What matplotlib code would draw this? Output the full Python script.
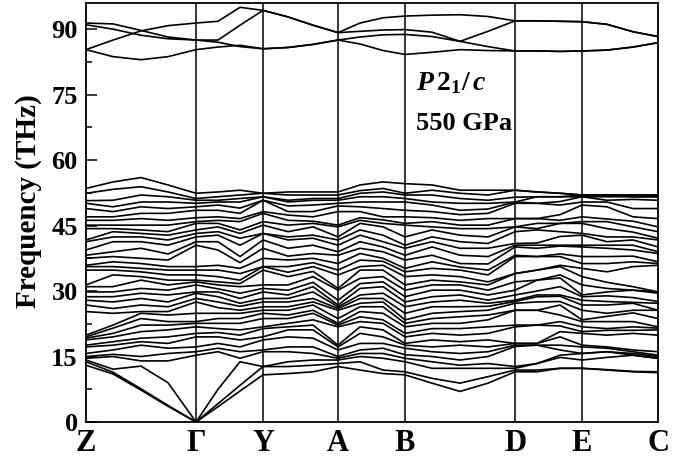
import numpy as np
import matplotlib
matplotlib.use("Agg")
from matplotlib import pyplot as plt
from matplotlib.ticker import MultipleLocator

# distance along the k-path for every sampled wavevector
kpath = [0, 27, 55, 82, 110, 132, 154, 177, 202, 227, 252, 274,
         297, 319, 346, 374, 402, 429, 451, 474, 496, 521, 547, 572]
sym_labels = ["Z", "Γ", "Y", "A", "B", "D", "E", "C"]
sym_pos = [0, 110, 177, 252, 319, 429, 496, 572]

# the four high optical branches (THz)
high_1 = [85.3, 87.5, 89.6, 90.8, 91.4, 91.8, 95.0, 94.3, 92.8, 90.9, 89.2, 91.4,
          92.6, 93.0, 93.2, 93.3, 92.9, 91.9, 91.9, 91.8, 91.7, 91.1, 89.4, 88.3]
high_2 = [91.4, 91.2, 89.7, 88.2, 87.5, 87.5, 90.9, 94.3, 92.8, 90.9, 89.2, 89.5,
          89.8, 89.9, 89.3, 87.2, 86.0, 85.0, 85.0, 84.9, 85.0, 85.2, 85.9, 86.9]
high_3 = [91.0, 90.0, 88.6, 87.8, 87.5, 87.0, 86.0, 85.5, 85.8, 86.5, 87.5, 88.2,
          88.7, 88.8, 88.3, 87.2, 89.5, 91.9, 91.9, 91.8, 91.7, 91.1, 89.4, 88.3]
high_4 = [85.3, 83.7, 83.0, 83.7, 85.3, 85.9, 86.3, 85.5, 85.8, 86.5, 87.5, 86.6,
          85.1, 84.2, 84.7, 85.3, 85.1, 85.0, 85.0, 84.9, 85.0, 85.2, 85.9, 86.9]

# lower branches: sorted frequencies (THz) at each sampled wavevector
f_Z = [13.0, 13.8, 14.2, 14.6, 15.0, 15.7, 17.2, 17.6, 18.8, 19.2, 19.5, 19.9,
       25.3, 26.8, 27.9, 28.7, 29.8, 31.0, 31.4, 34.8, 35.6, 35.9, 37.5, 38.2,
       39.4, 41.3, 41.7, 44.3, 45.1, 46.2, 47.0, 48.9, 50.1, 50.7, 52.4, 53.5]
f_ZG1 = [11.0, 11.4, 12.1, 15.0, 15.5, 16.5, 17.6, 18.4, 19.5, 20.3, 21.5, 22.2,
         24.9, 26.0, 27.5, 28.7, 29.8, 31.0, 33.7, 34.8, 35.6, 36.7, 37.9, 39.0,
         41.3, 42.4, 43.6, 44.3, 45.1, 46.2, 47.0, 48.2, 49.3, 50.8, 53.3, 55.0]
f_ZG2 = [7.3, 7.6, 12.8, 14.0, 15.0, 17.6, 18.4, 19.2, 20.7, 22.2, 23.7, 24.9,
         25.3, 26.8, 28.3, 29.5, 30.6, 32.5, 33.3, 34.4, 35.2, 36.3, 37.5, 39.8,
         41.3, 42.4, 43.2, 44.0, 45.1, 46.6, 47.8, 49.3, 50.4, 52.0, 53.9, 56.0]
f_ZG3 = [3.6, 3.8, 9.0, 14.0, 15.7, 16.9, 18.0, 19.5, 21.1, 22.2, 23.0, 24.5,
         25.3, 26.4, 27.5, 29.1, 30.2, 31.4, 32.5, 33.7, 34.8, 35.6, 37.1, 38.5,
         40.5, 41.7, 42.8, 43.6, 45.1, 46.2, 47.8, 48.9, 50.4, 51.6, 52.7, 54.3]
f_G = [0.0, 0.0, 0.0, 15.3, 16.1, 17.2, 19.5, 20.3, 21.8, 22.6, 23.0, 24.9,
       27.5, 28.3, 29.5, 29.8, 31.4, 32.1, 32.5, 33.7, 34.8, 35.6, 40.5, 41.3,
       42.4, 43.2, 44.0, 45.5, 45.9, 46.8, 48.5, 49.3, 50.1, 50.8, 51.2, 52.4]
f_GY1 = [3.5, 4.2, 7.5, 16.1, 16.9, 18.0, 19.5, 20.5, 21.4, 22.6, 23.7, 24.9,
         26.2, 27.5, 28.7, 29.8, 30.5, 31.4, 32.1, 33.3, 34.8, 35.9, 39.4, 41.3,
         42.8, 43.6, 44.7, 45.5, 46.2, 47.0, 48.5, 49.7, 50.4, 50.8, 51.6, 52.7]
f_GY2 = [7.1, 8.4, 13.8, 14.6, 16.1, 17.2, 18.8, 19.9, 21.1, 22.6, 23.7, 24.9,
         25.6, 26.5, 27.2, 28.3, 29.5, 31.0, 31.7, 32.5, 34.0, 35.2, 36.5, 37.9,
         40.5, 42.1, 43.2, 44.0, 45.9, 46.6, 47.8, 49.0, 50.4, 51.2, 52.0, 53.1]
f_Y = [10.8, 12.7, 12.7, 16.1, 16.5, 18.8, 19.5, 21.4, 21.8, 23.7, 24.9, 25.6,
       26.4, 27.5, 28.3, 29.8, 30.6, 31.4, 34.8, 35.6, 35.6, 37.5, 39.8, 41.7,
       43.2, 43.2, 45.1, 45.9, 47.8, 48.2, 50.8, 50.8, 51.6, 51.6, 52.4, 52.4]
f_YA1 = [11.1, 12.7, 13.8, 16.1, 17.2, 19.5, 21.1, 21.8, 22.6, 23.7, 24.5, 25.6,
         26.4, 27.5, 28.3, 29.1, 30.2, 31.4, 33.3, 34.3, 35.6, 37.1, 38.0, 39.8,
         41.7, 42.4, 43.6, 45.1, 46.2, 47.4, 48.2, 49.5, 50.4, 50.8, 52.0, 52.7]
f_YA2 = [11.5, 13.0, 14.2, 15.7, 17.2, 19.2, 21.1, 22.2, 23.4, 24.9, 25.6, 26.8,
         27.5, 28.3, 29.8, 31.0, 32.0, 33.3, 34.5, 35.6, 36.5, 37.5, 38.6, 40.5,
         42.1, 42.8, 44.7, 45.5, 46.0, 47.0, 48.2, 49.7, 50.8, 51.2, 52.0, 52.7]
f_A = [12.7, 13.4, 14.2, 14.6, 15.0, 16.5, 17.2, 17.6, 21.8, 22.2, 22.6, 23.7,
       25.6, 26.0, 26.4, 26.8, 27.9, 30.2, 30.6, 33.7, 34.8, 36.3, 38.2, 39.0,
       40.5, 41.7, 42.4, 44.7, 45.1, 48.2, 49.5, 50.1, 50.8, 51.2, 52.0, 52.7]
f_AB1 = [11.9, 13.8, 15.0, 15.7, 16.5, 18.0, 20.3, 21.8, 23.0, 24.1, 25.3, 26.4,
         27.2, 28.3, 29.1, 30.6, 31.7, 32.9, 34.8, 35.6, 37.1, 38.6, 39.8, 41.3,
         42.8, 44.0, 45.5, 46.2, 46.8, 48.2, 49.3, 50.4, 51.6, 52.4, 53.0, 54.3]
f_AB2 = [11.1, 11.9, 14.6, 15.7, 16.9, 18.0, 19.5, 21.1, 22.6, 23.4, 24.9, 26.4,
         27.5, 28.3, 29.5, 31.0, 32.1, 33.3, 34.8, 35.9, 36.8, 37.5, 39.0, 40.1,
         41.3, 42.8, 44.7, 45.5, 46.3, 47.0, 48.9, 50.4, 51.6, 52.7, 53.5, 55.0]
f_B = [10.8, 11.5, 13.8, 14.6, 15.4, 16.9, 17.6, 18.0, 19.5, 20.3, 21.8, 22.6,
       23.4, 24.9, 26.4, 27.5, 28.7, 30.2, 31.4, 33.3, 34.4, 35.2, 37.1, 38.2,
       39.8, 40.5, 42.4, 45.1, 45.5, 47.0, 48.5, 50.4, 51.2, 52.0, 52.4, 54.6]
f_BD1 = [8.9, 10.0, 12.3, 13.8, 15.0, 16.1, 17.2, 18.8, 20.3, 21.4, 22.6, 23.7,
         24.9, 26.4, 27.5, 28.7, 30.2, 31.4, 32.5, 33.7, 35.2, 36.7, 38.2, 40.1,
         41.3, 42.4, 44.0, 44.7, 45.9, 46.8, 48.2, 49.7, 50.4, 52.0, 53.1, 54.3]
f_BD2 = [7.0, 8.9, 12.3, 13.0, 14.2, 15.7, 17.6, 18.4, 19.9, 21.4, 22.6, 24.1,
         25.3, 26.4, 27.9, 29.1, 30.2, 31.4, 32.1, 33.3, 34.8, 35.5, 36.3, 38.2,
         39.8, 41.3, 42.8, 44.3, 45.1, 46.2, 47.5, 48.5, 50.1, 51.2, 52.4, 53.1]
f_BD3 = [8.9, 10.4, 12.3, 13.4, 15.0, 16.1, 17.2, 18.8, 20.3, 21.8, 23.4, 24.5,
         25.6, 26.5, 27.2, 27.9, 29.1, 30.2, 31.4, 32.1, 33.7, 34.8, 36.2, 37.9,
         39.8, 40.9, 42.4, 44.3, 45.1, 46.6, 47.8, 48.8, 50.1, 50.8, 52.0, 53.1]
f_D = [11.5, 11.9, 12.3, 12.7, 17.3, 17.6, 18.0, 18.0, 21.8, 22.2, 25.6, 25.6,
       27.2, 27.6, 27.9, 29.1, 30.2, 32.1, 34.0, 34.0, 37.9, 38.2, 40.1, 40.5,
       40.9, 43.6, 44.7, 44.7, 46.6, 46.6, 50.1, 50.4, 50.4, 51.5, 53.1, 53.1]
f_DE1 = [11.5, 11.9, 13.4, 13.4, 17.6, 17.6, 18.0, 18.0, 22.2, 22.2, 25.6, 25.6,
         27.5, 28.7, 29.1, 30.0, 32.5, 32.5, 34.8, 34.8, 37.9, 37.9, 39.8, 40.5,
         41.0, 44.0, 44.3, 45.5, 46.6, 46.6, 50.1, 50.1, 51.6, 51.6, 52.7, 52.7]
f_DE2 = [12.3, 12.3, 14.8, 15.3, 16.5, 17.6, 19.5, 20.7, 22.0, 23.0, 24.5, 26.8,
         27.6, 28.8, 29.1, 31.0, 33.0, 33.7, 35.6, 35.9, 37.9, 38.5, 40.3, 40.5,
         42.5, 43.6, 45.5, 45.5, 46.2, 47.5, 49.7, 50.5, 51.6, 51.6, 52.4, 52.4]
f_E = [12.3, 12.3, 14.2, 15.7, 15.7, 17.2, 17.6, 20.3, 20.7, 21.8, 23.0, 23.4,
       25.6, 26.8, 27.9, 28.7, 29.1, 31.4, 33.3, 35.2, 36.3, 37.9, 40.1, 40.5,
       42.8, 43.2, 45.5, 45.9, 47.0, 49.7, 50.4, 51.6, 51.6, 52.0, 52.0, 52.0]
f_EC1 = [11.9, 12.0, 14.8, 16.1, 16.1, 16.9, 17.2, 19.9, 21.0, 21.4, 23.0, 24.2,
         24.9, 26.8, 27.6, 28.9, 29.8, 30.6, 32.0, 34.4, 36.3, 37.9, 39.8, 40.5,
         41.3, 42.4, 44.3, 45.9, 46.5, 49.3, 50.4, 50.8, 51.6, 52.0, 52.0, 52.0]
f_EC2 = [11.5, 11.6, 15.3, 15.3, 15.7, 16.1, 16.5, 20.3, 21.0, 21.8, 23.0, 25.0,
         25.6, 27.2, 27.4, 28.5, 30.2, 30.2, 31.0, 35.6, 36.7, 38.0, 39.4, 40.5,
         41.7, 42.4, 43.5, 44.7, 46.0, 47.0, 48.9, 51.0, 51.6, 51.6, 52.0, 52.0]
f_C = [11.3, 11.5, 14.6, 14.6, 15.0, 15.3, 16.1, 19.9, 21.1, 21.5, 21.8, 23.7,
       25.6, 25.6, 27.2, 27.6, 29.5, 29.8, 29.8, 35.9, 36.3, 36.7, 38.6, 39.0,
       40.1, 41.7, 42.1, 43.6, 44.7, 46.6, 48.9, 50.8, 51.6, 51.6, 52.0, 52.0]

plt.rcParams["font.family"] = ["Liberation Serif", "DejaVu Serif"]
plt.rcParams["font.weight"] = "bold"
plt.rcParams["mathtext.fontset"] = "custom"
plt.rcParams["mathtext.rm"] = "Liberation Serif:weight=bold"
plt.rcParams["mathtext.it"] = "Liberation Serif:style=italic:weight=bold"
plt.rcParams["mathtext.bf"] = "Liberation Serif:weight=bold"

fig = plt.figure(figsize=(6.81, 4.61), dpi=100)
ax = fig.add_axes([0.1263, 0.0846, 0.840, 0.909])

low = np.array([f_Z, f_ZG1, f_ZG2, f_ZG3, f_G, f_GY1, f_GY2, f_Y, f_YA1, f_YA2,
                f_A, f_AB1, f_AB2, f_B, f_BD1, f_BD2, f_BD3, f_D, f_DE1, f_DE2,
                f_E, f_EC1, f_EC2, f_C]).T
for band in low:
    ax.plot(kpath, band, color="black", lw=1.2)
for band in (high_1, high_2, high_3, high_4):
    ax.plot(kpath, band, color="black", lw=1.2)

for x in sym_pos[1:-1]:
    ax.axvline(x, color="black", lw=1.1)

ax.set_xlim(sym_pos[0], sym_pos[-1])
ax.set_ylim(0, 96)
ax.set_xticks(sym_pos)
ax.set_xticklabels(sym_labels, fontsize=22)
ax.tick_params(axis="x", length=0, pad=5)
ax.yaxis.set_major_locator(MultipleLocator(15))
ax.yaxis.set_minor_locator(MultipleLocator(7.5))
ax.tick_params(axis="y", which="major", direction="in", length=8, width=1.1, labelsize=19, pad=6)
ax.tick_params(axis="y", which="minor", direction="in", length=4, width=1.1)
ax.set_ylabel("Frequency (THz)", fontsize=21, fontweight="bold")
ax.yaxis.set_label_coords(-0.077, 0.527)
for s in ax.spines.values():
    s.set_linewidth(1.3)

ax.text(330, 76, r"$P\,\mathrm{2}_{\mathrm{1}}/\,c$", fontsize=20, va="baseline")
ax.text(330, 66.8, "550 GPa", fontsize=19, va="baseline")

plt.savefig("out.png", dpi=100)
